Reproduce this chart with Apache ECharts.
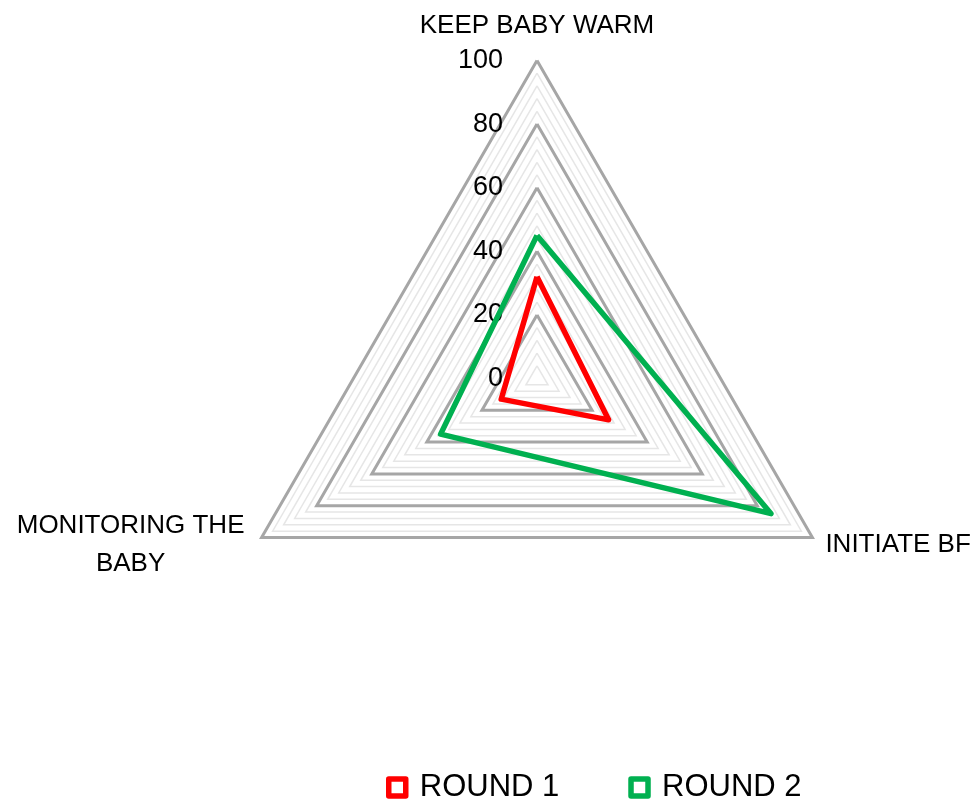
<!DOCTYPE html>
<html>
<head>
<meta charset="utf-8">
<script src="https://cdn.jsdelivr.net/npm/echarts@6/dist/echarts.min.js"></script>
<style>
html,body{margin:0;padding:0;background:#fff;}
#chart{width:975px;height:805px;}
</style>
</head>
<body>
<div id="chart"></div>
<script>
// categories in ECharts (counter-clockwise) drawing order: top, bottom-left, bottom-right
var indicatorNames = ['KEEP BABY WARM', 'MONITORING THE\nBABY', 'INITIATE BF'];
var axisMax = 100;
var tickLabels = ['0', '20', '40', '60', '80', '100'];
var seriesNames = ['ROUND 1', 'ROUND 2'];
var round1 = [32, 13, 26];
var round2 = [45, 35, 85];
var seriesColors = ['#FF0000', '#00B050'];

var FONT = 'Liberation Sans';
var chart = echarts.init(document.getElementById('chart'), null, {renderer: 'canvas'});

var mainIndicators = indicatorNames.map(function (n, i) {
  var o = {name: n, min: 0, max: axisMax};
  if (i === 0) {
    o.axisLabel = {show: true};
    o.nameGap = 22;
  }
  return o;
});
var minorIndicators = indicatorNames.map(function () {
  return {name: '', min: 0, max: axisMax};
});

var option = {
  backgroundColor: '#ffffff',
  animation: false,
  legend: {
    data: seriesNames.map(function (n, i) {
      return {name: n, icon: 'rect', itemStyle: {color: '#ffffff', borderColor: seriesColors[i], borderWidth: 5.5, borderJoin: 'round'}};
    }),
    left: 381,
    top: 767,
    itemWidth: 17,
    itemHeight: 17,
    itemGap: 69,
    textStyle: {fontFamily: FONT, fontSize: 31, color: '#000', padding: [0, 0, 0, 9]}
  },
  radar: [
    {
      center: [537, 378.5],
      radius: 318,
      startAngle: 90,
      shape: 'polygon',
      splitNumber: 5,
      indicator: mainIndicators,
      z: 3,
      axisName: {
        color: '#000',
        fontFamily: FONT,
        fontSize: 26,
        formatter: function (v) {
          if (v.indexOf('\n') >= 0) {
            return v.split('\n').map(function (s) { return '{c|' + s + '}'; }).join('\n');
          }
          return v;
        },
        rich: {
          c: {width: 236, align: 'center', fontFamily: FONT, fontSize: 26, color: '#000', lineHeight: 38}
        }
      },
      nameGap: 15,
      axisLine: {show: false},
      axisTick: {show: false},
      axisLabel: {
        show: false,
        fontFamily: FONT,
        fontSize: 27,
        color: '#000',
        margin: 34,
        formatter: function (v) {
          var idx = Math.round(v / 20);
          return tickLabels[idx] !== undefined ? tickLabels[idx] : '';
        }
      },
      splitLine: {lineStyle: {color: '#A6A6A6', width: 3}},
      splitArea: {show: false}
    },
    {
      center: [537, 378.5],
      radius: 318,
      startAngle: 90,
      shape: 'polygon',
      splitNumber: 25,
      indicator: minorIndicators,
      z: 1,
      axisName: {show: false},
      axisLine: {show: false},
      axisTick: {show: false},
      axisLabel: {show: false},
      splitLine: {lineStyle: {color: '#E6E6E6', width: 1.5}},
      splitArea: {show: false}
    }
  ],
  series: [
    {
      type: 'radar',
      radarIndex: 0,
      z: 5,
      symbol: 'none',
      lineStyle: {width: 5.5},
      data: [
        {name: seriesNames[0], value: round1, lineStyle: {color: seriesColors[0], width: 5.5}, itemStyle: {color: seriesColors[0]}},
        {name: seriesNames[1], value: round2, lineStyle: {color: seriesColors[1], width: 5.5}, itemStyle: {color: seriesColors[1]}}
      ]
    }
  ]
};
chart.setOption(option);
</script>
</body>
</html>
